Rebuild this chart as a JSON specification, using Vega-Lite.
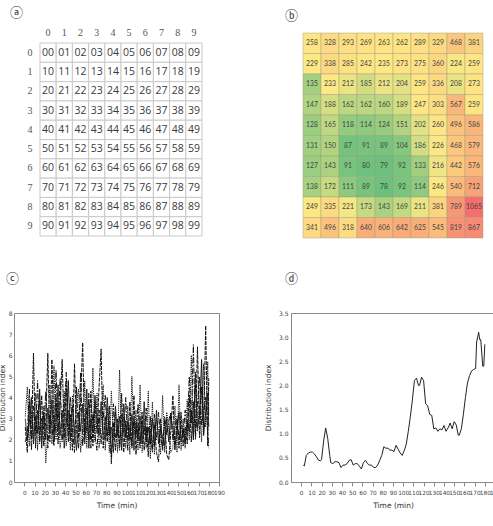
{
  "$schema": "https://vega.github.io/schema/vega-lite/v6.json",
  "padding": {"left": -3, "top": 7, "right": 0, "bottom": 0},
  "background": "white",
  "config": {
    "view": {"stroke": null},
    "font": "DejaVu Sans",
    "title": {"font": "Noto Sans CJK SC", "fontSize": 13, "fontWeight": "normal", "color": "#333", "anchor": "start", "frame": "group"}
  },
  "datasets": {
    "cells": [
      {"r":0,"c":0,"k":"00","v":258},{"r":0,"c":1,"k":"01","v":328},{"r":0,"c":2,"k":"02","v":293},{"r":0,"c":3,"k":"03","v":269},{"r":0,"c":4,"k":"04","v":263},{"r":0,"c":5,"k":"05","v":262},{"r":0,"c":6,"k":"06","v":289},{"r":0,"c":7,"k":"07","v":329},{"r":0,"c":8,"k":"08","v":468},{"r":0,"c":9,"k":"09","v":381},
      {"r":1,"c":0,"k":"10","v":229},{"r":1,"c":1,"k":"11","v":338},{"r":1,"c":2,"k":"12","v":285},{"r":1,"c":3,"k":"13","v":242},{"r":1,"c":4,"k":"14","v":235},{"r":1,"c":5,"k":"15","v":273},{"r":1,"c":6,"k":"16","v":275},{"r":1,"c":7,"k":"17","v":360},{"r":1,"c":8,"k":"18","v":224},{"r":1,"c":9,"k":"19","v":259},
      {"r":2,"c":0,"k":"20","v":135},{"r":2,"c":1,"k":"21","v":233},{"r":2,"c":2,"k":"22","v":212},{"r":2,"c":3,"k":"23","v":185},{"r":2,"c":4,"k":"24","v":212},{"r":2,"c":5,"k":"25","v":204},{"r":2,"c":6,"k":"26","v":259},{"r":2,"c":7,"k":"27","v":336},{"r":2,"c":8,"k":"28","v":208},{"r":2,"c":9,"k":"29","v":273},
      {"r":3,"c":0,"k":"30","v":147},{"r":3,"c":1,"k":"31","v":188},{"r":3,"c":2,"k":"32","v":162},{"r":3,"c":3,"k":"33","v":162},{"r":3,"c":4,"k":"34","v":160},{"r":3,"c":5,"k":"35","v":189},{"r":3,"c":6,"k":"36","v":247},{"r":3,"c":7,"k":"37","v":303},{"r":3,"c":8,"k":"38","v":567},{"r":3,"c":9,"k":"39","v":259},
      {"r":4,"c":0,"k":"40","v":128},{"r":4,"c":1,"k":"41","v":165},{"r":4,"c":2,"k":"42","v":118},{"r":4,"c":3,"k":"43","v":114},{"r":4,"c":4,"k":"44","v":124},{"r":4,"c":5,"k":"45","v":151},{"r":4,"c":6,"k":"46","v":202},{"r":4,"c":7,"k":"47","v":260},{"r":4,"c":8,"k":"48","v":496},{"r":4,"c":9,"k":"49","v":586},
      {"r":5,"c":0,"k":"50","v":131},{"r":5,"c":1,"k":"51","v":150},{"r":5,"c":2,"k":"52","v":87},{"r":5,"c":3,"k":"53","v":91},{"r":5,"c":4,"k":"54","v":89},{"r":5,"c":5,"k":"55","v":104},{"r":5,"c":6,"k":"56","v":186},{"r":5,"c":7,"k":"57","v":226},{"r":5,"c":8,"k":"58","v":468},{"r":5,"c":9,"k":"59","v":579},
      {"r":6,"c":0,"k":"60","v":127},{"r":6,"c":1,"k":"61","v":143},{"r":6,"c":2,"k":"62","v":91},{"r":6,"c":3,"k":"63","v":80},{"r":6,"c":4,"k":"64","v":79},{"r":6,"c":5,"k":"65","v":92},{"r":6,"c":6,"k":"66","v":133},{"r":6,"c":7,"k":"67","v":216},{"r":6,"c":8,"k":"68","v":442},{"r":6,"c":9,"k":"69","v":576},
      {"r":7,"c":0,"k":"70","v":138},{"r":7,"c":1,"k":"71","v":172},{"r":7,"c":2,"k":"72","v":111},{"r":7,"c":3,"k":"73","v":89},{"r":7,"c":4,"k":"74","v":78},{"r":7,"c":5,"k":"75","v":92},{"r":7,"c":6,"k":"76","v":114},{"r":7,"c":7,"k":"77","v":246},{"r":7,"c":8,"k":"78","v":540},{"r":7,"c":9,"k":"79","v":712},
      {"r":8,"c":0,"k":"80","v":249},{"r":8,"c":1,"k":"81","v":335},{"r":8,"c":2,"k":"82","v":221},{"r":8,"c":3,"k":"83","v":173},{"r":8,"c":4,"k":"84","v":143},{"r":8,"c":5,"k":"85","v":169},{"r":8,"c":6,"k":"86","v":211},{"r":8,"c":7,"k":"87","v":381},{"r":8,"c":8,"k":"88","v":789},{"r":8,"c":9,"k":"89","v":1065},
      {"r":9,"c":0,"k":"90","v":341},{"r":9,"c":1,"k":"91","v":496},{"r":9,"c":2,"k":"92","v":318},{"r":9,"c":3,"k":"93","v":640},{"r":9,"c":4,"k":"94","v":606},{"r":9,"c":5,"k":"95","v":642},{"r":9,"c":6,"k":"96","v":625},{"r":9,"c":7,"k":"97","v":545},{"r":9,"c":8,"k":"98","v":819},{"r":9,"c":9,"k":"99","v":867}
    ],
    "spread": [
      {"t":1,"a":2.6,"b":3.1,"c":1.9,"d":3.0},{"t":3,"a":1.4,"b":4.5,"c":2.2,"d":2.0},{"t":5,"a":3.8,"b":1.7,"c":4.4,"d":2.8},{"t":7,"a":2.0,"b":3.3,"c":1.5,"d":4.0},{"t":9,"a":6.1,"b":2.1,"c":3.6,"d":1.8},
      {"t":11,"a":1.6,"b":4.2,"c":2.3,"d":3.1},{"t":13,"a":3.4,"b":1.5,"c":4.8,"d":2.3},{"t":15,"a":2.2,"b":3.9,"c":1.8,"d":4.4},{"t":17,"a":4.1,"b":2.0,"c":3.0,"d":1.6},{"t":19,"a":1.7,"b":3.6,"c":2.5,"d":3.3},
      {"t":21,"a":2.9,"b":0.9,"c":4.3,"d":2.0},{"t":23,"a":6.1,"b":2.4,"c":1.6,"d":3.5},{"t":25,"a":1.9,"b":4.6,"c":3.2,"d":2.3},{"t":27,"a":5.8,"b":1.8,"c":2.6,"d":3.9},{"t":29,"a":2.3,"b":5.5,"c":1.7,"d":1.9},
      {"t":31,"a":4.0,"b":2.0,"c":5.3,"d":2.8},{"t":33,"a":1.8,"b":3.8,"c":2.4,"d":4.6},{"t":35,"a":3.6,"b":1.6,"c":4.9,"d":2.2},{"t":37,"a":5.8,"b":2.5,"c":1.9,"d":3.4},{"t":39,"a":2.1,"b":4.3,"c":3.1,"d":1.6},
      {"t":41,"a":4.6,"b":1.7,"c":5.2,"d":2.7},{"t":43,"a":1.9,"b":3.4,"c":2.2,"d":4.8},{"t":45,"a":3.2,"b":1.5,"c":4.0,"d":2.0},{"t":47,"a":1.5,"b":4.1,"c":2.6,"d":3.6},{"t":49,"a":5.6,"b":2.0,"c":1.4,"d":2.5},
      {"t":51,"a":2.4,"b":3.7,"c":4.5,"d":1.5},{"t":53,"a":1.6,"b":4.4,"c":2.1,"d":3.3},{"t":55,"a":3.9,"b":1.4,"c":5.2,"d":2.4},{"t":57,"a":6.6,"b":2.6,"c":1.7,"d":3.7},{"t":59,"a":1.8,"b":4.8,"c":3.0,"d":2.1},
      {"t":61,"a":3.5,"b":1.6,"c":2.4,"d":4.4},{"t":63,"a":2.0,"b":3.9,"c":4.2,"d":1.6},{"t":65,"a":4.3,"b":2.2,"c":1.6,"d":3.0},{"t":67,"a":1.7,"b":5.4,"c":3.3,"d":2.4},{"t":69,"a":3.8,"b":1.9,"c":2.2,"d":4.1},
      {"t":71,"a":2.3,"b":4.2,"c":1.5,"d":2.9},{"t":73,"a":4.5,"b":1.6,"c":3.4,"d":2.2},{"t":75,"a":6.3,"b":2.7,"c":1.8,"d":3.8},{"t":77,"a":1.6,"b":4.6,"c":3.0,"d":2.3},{"t":79,"a":3.1,"b":1.5,"c":4.1,"d":2.0},
      {"t":81,"a":1.9,"b":3.5,"c":2.2,"d":4.0},{"t":83,"a":3.6,"b":1.4,"c":2.9,"d":2.2},{"t":85,"a":1.2,"b":4.3,"c":0.85,"d":2.6},{"t":87,"a":2.8,"b":2.0,"c":3.7,"d":1.4},{"t":89,"a":1.5,"b":3.3,"c":2.1,"d":3.6},
      {"t":91,"a":3.0,"b":1.4,"c":2.6,"d":2.2},{"t":93,"a":1.8,"b":5.3,"c":1.5,"d":3.1},{"t":95,"a":4.2,"b":1.9,"c":3.2,"d":1.5},{"t":97,"a":1.4,"b":3.1,"c":2.3,"d":3.7},{"t":99,"a":2.9,"b":1.6,"c":4.0,"d":2.1},
      {"t":101,"a":1.5,"b":3.6,"c":2.0,"d":2.9},{"t":103,"a":3.8,"b":1.3,"c":2.7,"d":2.0},{"t":105,"a":1.7,"b":5.0,"c":1.6,"d":3.2},{"t":107,"a":4.1,"b":2.2,"c":3.0,"d":1.5},{"t":109,"a":1.3,"b":3.4,"c":2.1,"d":2.8},
      {"t":111,"a":2.8,"b":1.5,"c":3.7,"d":2.0},{"t":113,"a":1.6,"b":4.6,"c":1.9,"d":3.1},{"t":115,"a":3.3,"b":1.4,"c":2.8,"d":1.8},{"t":117,"a":1.5,"b":3.0,"c":2.2,"d":3.8},{"t":119,"a":2.6,"b":1.6,"c":3.5,"d":1.9},
      {"t":121,"a":1.2,"b":4.3,"c":1.7,"d":2.6},{"t":123,"a":3.1,"b":1.1,"c":2.5,"d":1.8},{"t":125,"a":1.6,"b":3.8,"c":1.4,"d":3.0},{"t":127,"a":2.7,"b":1.3,"c":3.2,"d":1.7},{"t":129,"a":1.4,"b":3.0,"c":2.0,"d":3.4},
      {"t":131,"a":0.95,"b":2.4,"c":3.3,"d":1.8},{"t":133,"a":3.0,"b":1.3,"c":2.1,"d":2.6},{"t":135,"a":1.5,"b":4.1,"c":1.6,"d":2.1},{"t":137,"a":2.9,"b":1.4,"c":3.1,"d":1.7},{"t":139,"a":1.3,"b":3.3,"c":2.2,"d":3.0},
      {"t":141,"a":1.05,"b":2.6,"c":2.9,"d":1.9},{"t":143,"a":2.4,"b":1.4,"c":3.3,"d":3.2},{"t":145,"a":4.1,"b":1.6,"c":2.0,"d":2.5},{"t":147,"a":1.5,"b":3.6,"c":2.6,"d":1.7},{"t":149,"a":2.9,"b":1.4,"c":3.1,"d":2.4},
      {"t":151,"a":1.6,"b":4.6,"c":2.0,"d":3.3},{"t":153,"a":3.3,"b":1.5,"c":2.7,"d":1.9},{"t":155,"a":1.7,"b":3.0,"c":2.1,"d":2.5},{"t":157,"a":2.6,"b":1.6,"c":3.4,"d":1.8},{"t":159,"a":1.8,"b":3.9,"c":2.3,"d":2.9},
      {"t":161,"a":4.1,"b":2.0,"c":5.0,"d":2.4},{"t":163,"a":1.9,"b":6.0,"c":2.8,"d":3.4},{"t":165,"a":3.8,"b":2.2,"c":6.5,"d":2.0},{"t":167,"a":2.3,"b":4.6,"c":2.0,"d":5.2},{"t":169,"a":6.4,"b":2.4,"c":3.7,"d":2.6},
      {"t":171,"a":2.1,"b":3.6,"c":5.0,"d":3.1},{"t":173,"a":4.5,"b":1.9,"c":2.7,"d":5.8},{"t":175,"a":2.6,"b":5.6,"c":3.3,"d":2.2},{"t":177,"a":7.4,"b":2.6,"c":4.0,"d":3.3},{"t":179,"a":1.7,"b":5.7,"c":2.4,"d":4.2},
      {"t":180,"a":4.9,"b":3.2,"c":1.6,"d":2.6}
    ],
    "index": [
      {"t":2,"v":0.35},{"t":3,"v":0.33},{"t":5,"v":0.55},{"t":7,"v":0.6},{"t":9,"v":0.62},{"t":11,"v":0.62},{"t":13,"v":0.58},{"t":15,"v":0.52},{"t":17,"v":0.45},{"t":19,"v":0.44},
      {"t":20,"v":0.47},{"t":22,"v":0.85},{"t":24,"v":1.12},{"t":26,"v":0.9},{"t":28,"v":0.55},{"t":29,"v":0.4},{"t":31,"v":0.38},{"t":33,"v":0.42},{"t":35,"v":0.42},{"t":37,"v":0.4},
      {"t":39,"v":0.3},{"t":41,"v":0.35},{"t":43,"v":0.35},{"t":45,"v":0.38},{"t":47,"v":0.45},{"t":49,"v":0.46},{"t":51,"v":0.35},{"t":53,"v":0.38},{"t":55,"v":0.38},{"t":57,"v":0.33},
      {"t":59,"v":0.27},{"t":61,"v":0.4},{"t":63,"v":0.45},{"t":65,"v":0.38},{"t":67,"v":0.35},{"t":69,"v":0.35},{"t":71,"v":0.3},{"t":73,"v":0.3},{"t":75,"v":0.35},{"t":77,"v":0.45},
      {"t":79,"v":0.55},{"t":81,"v":0.73},{"t":83,"v":0.7},{"t":85,"v":0.7},{"t":87,"v":0.66},{"t":89,"v":0.66},{"t":91,"v":0.63},{"t":93,"v":0.76},{"t":95,"v":0.68},{"t":97,"v":0.6},
      {"t":99,"v":0.55},{"t":101,"v":0.65},{"t":103,"v":0.78},{"t":105,"v":1.05},{"t":107,"v":1.35},{"t":109,"v":1.7},{"t":111,"v":2.1},{"t":113,"v":2.15},{"t":115,"v":2.0},{"t":116,"v":2.0},
      {"t":118,"v":2.17},{"t":120,"v":2.1},{"t":122,"v":1.62},{"t":124,"v":1.58},{"t":126,"v":1.4},{"t":128,"v":1.38},{"t":130,"v":1.1},{"t":132,"v":1.12},{"t":134,"v":1.05},{"t":136,"v":1.1},
      {"t":138,"v":1.08},{"t":140,"v":1.17},{"t":142,"v":1.05},{"t":144,"v":1.12},{"t":146,"v":1.22},{"t":148,"v":1.1},{"t":150,"v":1.25},{"t":152,"v":1.18},{"t":154,"v":0.97},{"t":155,"v":0.97},
      {"t":157,"v":1.1},{"t":159,"v":1.4},{"t":161,"v":1.75},{"t":163,"v":2.05},{"t":165,"v":2.2},{"t":167,"v":2.3},{"t":169,"v":2.33},{"t":171,"v":2.35},{"t":172,"v":2.9},{"t":174,"v":3.1},
      {"t":175,"v":2.95},{"t":176,"v":2.95},{"t":178,"v":2.4},{"t":179,"v":2.4},{"t":180,"v":2.85}
    ]
  },
  "columns": 2,
  "align": "each",
  "spacing": {"row": 33, "column": 37},
  "concat": [
    {
      "width": 188,
      "height": 203,
      "title": {"text": "ⓐ", "dx": -4, "offset": 7},
      "data": {"name": "cells"},
      "encoding": {
        "x": {"field": "c", "type": "ordinal", "scale": {"paddingInner": 0, "paddingOuter": 0.8025, "align": 1},
              "axis": {"orient": "top", "title": null, "domain": false, "ticks": false, "labelAngle": 0, "labelPadding": -4,
                       "labelFont": "Liberation Serif", "labelFontSize": 10, "labelColor": "#555"}},
        "y": {"field": "r", "type": "ordinal", "scale": {"paddingInner": 0, "paddingOuter": 0.26, "align": 1},
              "axis": {"title": null, "domain": false, "ticks": false, "offset": -21, "labelPadding": 3,
                       "labelFont": "Liberation Serif", "labelFontSize": 10, "labelColor": "#555"}}
      },
      "layer": [
        {"mark": {"type": "rect", "fill": "white", "stroke": "#c9c9c9", "strokeWidth": 1}},
        {"mark": {"type": "text", "font": "Open Sans", "fontSize": 10.5, "color": "#3a3a3a"},
         "encoding": {"text": {"field": "k"}}}
      ]
    },
    {
      "width": 192,
      "height": 205,
      "title": {"text": "ⓑ", "dx": -6, "offset": 10},
      "data": {"name": "cells"},
      "encoding": {
        "x": {"field": "c", "type": "ordinal", "scale": {"paddingInner": 0, "paddingOuter": 0.3333, "align": 1}, "axis": null},
        "y": {"field": "r", "type": "ordinal", "scale": {"paddingInner": 0, "paddingOuter": 0}, "axis": null}
      },
      "layer": [
        {"mark": {"type": "rect", "stroke": "#9c9a80", "strokeWidth": 0.6, "strokeOpacity": 0.7},
         "encoding": {"color": {"field": "v", "type": "quantitative", "legend": null,
                                "scale": {"domain": [78, 230, 1065], "range": ["#6cc17d", "#fde985", "#f56e6d"], "interpolate": "rgb"}}}},
        {"mark": {"type": "text", "font": "Lato", "fontSize": 6.8, "color": "#444"},
         "encoding": {"text": {"field": "v", "type": "quantitative"}}}
      ]
    },
    {
      "width": 205,
      "height": 169,
      "title": {"text": "ⓒ", "dx": -8, "offset": 24},
      "view": {"stroke": "#8a8a8a"},
      "data": {"name": "spread"},
      "transform": [{"fold": ["a", "b", "c", "d"], "as": ["run", "value"]}],
      "mark": {"type": "line", "color": "#111", "strokeWidth": 1},
      "encoding": {
        "x": {"field": "t", "type": "quantitative", "scale": {"domain": [-10, 190], "nice": false},
              "axis": {"title": "Time (min)", "values": [0,10,20,30,40,50,60,70,80,90,100,110,120,130,140,150,160,170,180,190],
                       "grid": false, "labelOverlap": false, "labelFlush": false, "labelFontSize": 5.8, "labelColor": "#444",
                       "tickColor": "#8a8a8a", "tickSize": 4, "domainColor": "#8a8a8a", "labelPadding": 3,
                       "titleFontSize": 7.5, "titleFontWeight": "normal", "titleColor": "#333", "titlePadding": 7}},
        "y": {"field": "value", "type": "quantitative", "scale": {"domain": [0, 8], "nice": false},
              "axis": {"title": "Distribution index", "values": [0,1,2,3,4,5,6,7,8], "grid": false, "ticks": false,
                       "labelFontSize": 6, "labelColor": "#444", "labelPadding": 2, "domainColor": "#8a8a8a",
                       "titleFontSize": 7.5, "titleFontWeight": "normal", "titleColor": "#333", "titlePadding": 2}},
        "strokeDash": {"field": "run", "type": "nominal", "legend": null,
                       "scale": {"domain": ["a", "b", "c", "d"], "range": [[4, 1], [1.2, 1], [6, 1.5, 1.5, 1.5], [1, 0]]}}
      }
    },
    {
      "width": 204,
      "height": 169,
      "title": {"text": "ⓓ", "dx": -6, "offset": 24},
      "view": {"stroke": "#8a8a8a"},
      "data": {"name": "index"},
      "mark": {"type": "line", "color": "#222", "strokeWidth": 1},
      "encoding": {
        "x": {"field": "t", "type": "quantitative", "scale": {"domain": [-10, 190], "nice": false},
              "axis": {"title": "Time (min)", "values": [0,10,20,30,40,50,60,70,80,90,100,110,120,130,140,150,160,170,180,190],
                       "grid": false, "labelOverlap": false, "labelFlush": false, "labelFontSize": 5.8, "labelColor": "#444",
                       "tickColor": "#8a8a8a", "tickSize": 4, "domainColor": "#8a8a8a", "labelPadding": 3,
                       "titleFontSize": 7.5, "titleFontWeight": "normal", "titleColor": "#333", "titlePadding": 7}},
        "y": {"field": "v", "type": "quantitative", "scale": {"domain": [0, 3.5], "nice": false},
              "axis": {"title": "Distribution index", "values": [0,0.5,1,1.5,2,2.5,3,3.5], "format": ".1f", "grid": false, "ticks": false,
                       "labelFontSize": 6, "labelColor": "#444", "labelPadding": 3, "domainColor": "#8a8a8a",
                       "titleFontSize": 7.5, "titleFontWeight": "normal", "titleColor": "#333", "titlePadding": 6}}
      }
    }
  ]
}
